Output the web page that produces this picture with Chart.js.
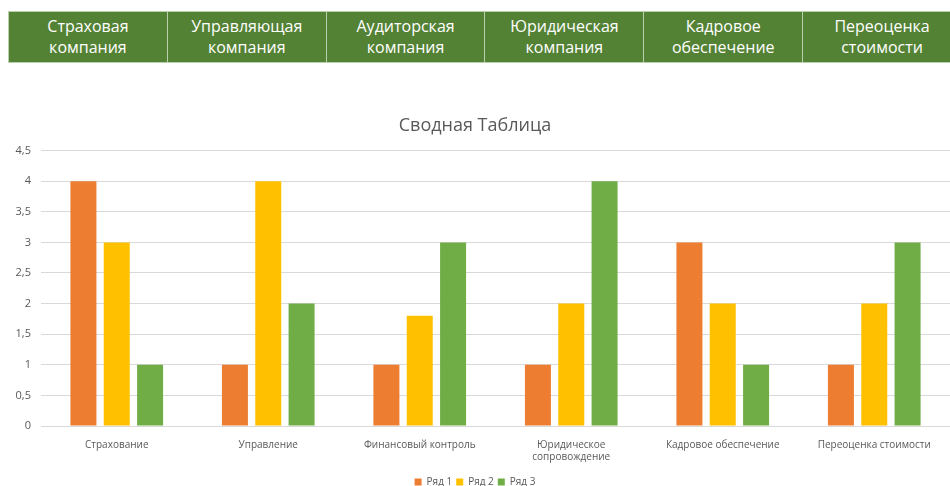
<!DOCTYPE html>
<html>
<head>
<meta charset="utf-8">
<script src="https://cdn.jsdelivr.net/npm/chart.js@4.4.1/dist/chart.umd.min.js"></script>
<style>
  html, body { margin: 0; padding: 0; background: #fff; width: 950px; height: 486px; overflow: hidden; position: relative; }
  #head { position: absolute; top: 11px; left: 8px; width: 954px; border-collapse: collapse; table-layout: fixed; }
  #head td {
    height: 50px; padding: 0;
    background: #548235; color: #fff;
    border: 1px solid #b9cfae;
    font-family: 'Open Sans', sans-serif; font-size: 16px; line-height: 21px;
    text-align: center; vertical-align: middle;
  }
  #wrap { position: absolute; top: 100px; left: 0; width: 950px; height: 397px; }
</style>
</head>
<body>
<table id="head"><tr></tr></table>
<div id="wrap"><canvas id="chart"></canvas></div>
<script>
const headers = [
  ['Страховая', 'компания'],
  ['Управляющая', 'компания'],
  ['Аудиторская', 'компания'],
  ['Юридическая', 'компания'],
  ['Кадровое', 'обеспечение'],
  ['Переоценка', 'стоимости']
];
const categories = [
  'Страхование',
  'Управление',
  'Финансовый контроль',
  ['Юридическое', 'сопровождение'],
  'Кадровое обеспечение',
  'Переоценка стоимости'
];
const row1 = [4, 1, 1, 1, 3, 1];
const row2 = [3, 4, 1.8, 2, 2, 2];
const row3 = [1, 2, 3, 4, 1, 3];

// шапка таблицы
const tr = document.querySelector('#head tr');
headers.forEach(h => {
  const td = document.createElement('td');
  td.innerHTML = h.join('<br>');
  tr.appendChild(td);
});

Chart.defaults.font.family = "'Open Sans', sans-serif";
Chart.defaults.color = '#595959';

const ctx = document.getElementById('chart').getContext('2d');
new Chart(ctx, {
  type: 'bar',
  data: {
    labels: categories,
    datasets: [
      { label: 'Ряд 1', data: row1, backgroundColor: '#ED7D31' },
      { label: 'Ряд 2', data: row2, backgroundColor: '#FFC000' },
      { label: 'Ряд 3', data: row3, backgroundColor: '#70AD47' }
    ]
  },
  options: {
    responsive: true,
    maintainAspectRatio: false,
    animation: false,
    categoryPercentage: 0.66,
    barPercentage: 0.78,
    layout: { padding: { left: 0, right: 0, top: 0, bottom: 0 } },
    plugins: {
      title: {
        display: true,
        text: 'Сводная Таблица',
        color: '#595959',
        font: { size: 18, weight: 'normal' },
        padding: { top: 15, bottom: 14 }
      },
      legend: {
        position: 'bottom',
        labels: {
          boxWidth: 7,
          boxHeight: 7,
          padding: 4,
          font: { size: 10 }
        }
      },
      tooltip: { enabled: false }
    },
    scales: {
      x: {
        grid: { display: false },
        border: { display: false },
        ticks: { font: { size: 10 }, maxRotation: 0, autoSkip: false, padding: 5 },
        afterFit: scale => { scale.height += 5; }
      },
      y: {
        min: 0,
        max: 4.5,
        ticks: {
          stepSize: 0.5,
          font: { size: 11 },
          padding: 10,
          callback: v => String(v).replace('.', ',')
        },
        grid: { color: '#d9d9d9', drawTicks: false },
        border: { display: false },
        afterFit: scale => { scale.width = 41; }
      }
    }
  }
});
</script>
</body>
</html>
